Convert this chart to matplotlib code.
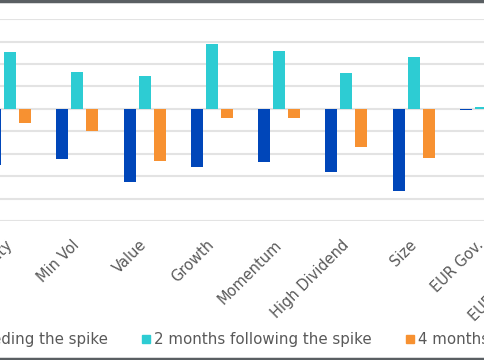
import matplotlib
matplotlib.use("Agg")
import matplotlib.pyplot as plt
from matplotlib.lines import Line2D
import numpy as np

# categories visible in the crop (the left ones are cut off)
categories = ["Quality", "Min Vol", "Value", "Growth", "Momentum",
              "High Dividend", "Size", "EUR Gov.", "EUR Corporate"]
before_spike = [-2.5, -2.22, -3.27, -2.58, -2.38, -2.8, -3.66, -0.05, np.nan]
after_2m = [2.54, 1.62, 1.46, 2.9, 2.59, 1.58, 2.3, 0.07, np.nan]
after_4m = [-0.63, -0.98, -2.31, -0.43, -0.4, -1.68, -2.2, -0.1, np.nan]
series_names = ["2 months preceding the spike", "2 months following the spike",
                "4 months following the spike"]

colors = ["#0046B9", "#2DCCD3", "#F79131"]
text_col = "#595959"

fig = plt.figure(figsize=(4.85, 3.6), dpi=100)
ax = fig.add_axes([0, 0.386, 1, 0.561])

x = np.arange(len(categories))
w = 0.178
off = 0.223
for i, (vals, c) in enumerate(zip([before_spike, after_2m, after_4m], colors)):
    ax.bar(x + (i - 1) * off, vals, width=w, color=c, zorder=3)

ax.set_xticks(x)
ax.set_xticklabels(categories, rotation=45, ha="right", va="center",
                   rotation_mode="anchor", color=text_col, fontsize=10.5)
ax.set_ylim(-5, 4)
ax.set_yticks(np.arange(-5, 5, 1))
ax.set_xlim(-0.149, 7.06)
ax.grid(axis="y", color="#E3E3E3", linewidth=1.5, zorder=0)
for s in ax.spines.values():
    s.set_visible(False)
ax.tick_params(axis="y", left=False, labelleft=False)
ax.tick_params(axis="x", length=0, pad=15.5)

# last category sits past the right edge, its tick label is not drawn by
# matplotlib, so put it in by hand so the start of it shows like in the crop
ax.annotate(categories[-1], xy=(x[-1], 0), xycoords=ax.get_xaxis_transform(),
            xytext=(0, -15.5), textcoords="offset points", rotation=45,
            ha="right", va="center", rotation_mode="anchor",
            color=text_col, fontsize=10.5, annotation_clip=False)

handles = [Line2D([], [], marker="s", linestyle="", markersize=6, color=c)
           for c in colors]
fig.legend(handles, series_names, loc="center", ncol=3,
           bbox_to_anchor=(0.521, 0.056), frameon=False, fontsize=10.8,
           labelcolor=text_col, handlelength=0.7, handletextpad=0.2,
           columnspacing=2.2)

# dark frame lines at top and bottom of the image
fig.add_artist(Line2D([0, 1], [0.997, 0.997], color="#5A5F63", linewidth=2.5))
fig.add_artist(Line2D([0, 1], [0.004, 0.004], color="#5A5F63", linewidth=2.5))

fig.savefig("out.png", dpi=100)
